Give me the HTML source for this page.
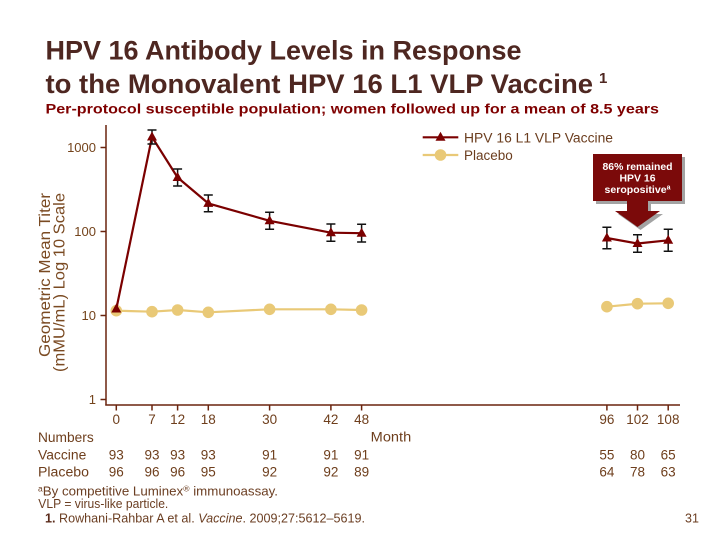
<!DOCTYPE html>
<html>
<head>
<meta charset="utf-8">
<style>
html,body{margin:0;padding:0;background:#fff;}
svg{display:block;}
text{font-family:"Liberation Sans", sans-serif;}
</style>
</head>
<body>
<svg width="714" height="535" viewBox="0 0 714 535" xmlns="http://www.w3.org/2000/svg">
<rect width="714" height="535" fill="#fff"/>

<!-- Title -->
<text x="45.5" y="59.5" font-size="27" font-weight="bold" fill="#4e2721" textLength="476" lengthAdjust="spacingAndGlyphs">HPV 16 Antibody Levels in Response</text>
<text x="45.5" y="93" font-size="27" font-weight="bold" fill="#4e2721" textLength="547.5" lengthAdjust="spacingAndGlyphs">to the Monovalent HPV 16 L1 VLP Vaccine</text>
<text x="599" y="83" font-size="15" font-weight="bold" fill="#4e2721">1</text>
<text x="45.5" y="113.5" font-size="13.5" font-weight="bold" fill="#7f0000" textLength="613.5" lengthAdjust="spacingAndGlyphs">Per-protocol susceptible population; women followed up for a mean of 8.5 years</text>

<!-- Y axis title -->
<text transform="translate(50,357) rotate(-90)" font-size="16" fill="#7a4a22" textLength="164" lengthAdjust="spacingAndGlyphs">Geometric Mean Titer</text>
<text transform="translate(64.5,372) rotate(-90)" font-size="16" fill="#7a4a22" textLength="179" lengthAdjust="spacingAndGlyphs">(mMU/mL)  Log 10 Scale</text>

<!-- Axes -->
<g stroke="#6a240e" stroke-width="1.5" fill="none">
  <line x1="106" y1="125" x2="106" y2="405.5"/>
  <line x1="105.3" y1="405" x2="680" y2="405"/>
  <line x1="100.5" y1="147.5" x2="106" y2="147.5"/>
  <line x1="100.5" y1="231.5" x2="106" y2="231.5"/>
  <line x1="100.5" y1="315.5" x2="106" y2="315.5"/>
  <line x1="100.5" y1="399.5" x2="106" y2="399.5"/>
  <line x1="116.3" y1="405" x2="116.3" y2="410.5"/>
  <line x1="152" y1="405" x2="152" y2="410.5"/>
  <line x1="177.6" y1="405" x2="177.6" y2="410.5"/>
  <line x1="208.3" y1="405" x2="208.3" y2="410.5"/>
  <line x1="269.6" y1="405" x2="269.6" y2="410.5"/>
  <line x1="330.9" y1="405" x2="330.9" y2="410.5"/>
  <line x1="361.6" y1="405" x2="361.6" y2="410.5"/>
  <line x1="606.9" y1="405" x2="606.9" y2="410.5"/>
  <line x1="637.5" y1="405" x2="637.5" y2="410.5"/>
  <line x1="668.2" y1="405" x2="668.2" y2="410.5"/>
</g>

<!-- Y tick labels -->
<g font-size="13" fill="#74441c" text-anchor="end">
  <text x="96" y="152">1000</text>
  <text x="96" y="236">100</text>
  <text x="96" y="320">10</text>
  <text x="96" y="404">1</text>
</g>

<!-- X tick labels -->
<g font-size="13.5" fill="#6e3e1c" text-anchor="middle">
  <text x="116.3" y="424">0</text>
  <text x="152" y="424">7</text>
  <text x="177.6" y="424">12</text>
  <text x="208.3" y="424">18</text>
  <text x="269.6" y="424">30</text>
  <text x="330.9" y="424">42</text>
  <text x="361.6" y="424">48</text>
  <text x="606.9" y="424">96</text>
  <text x="637.5" y="424">102</text>
  <text x="668.2" y="424">108</text>
</g>

<!-- Placebo series -->
<g stroke="#e9c977" stroke-width="2.2" fill="none">
  <polyline points="116.3,310.7 152,311.7 177.6,310 208.3,312.3 269.6,309.3 330.9,309.3 361.6,310"/>
  <polyline points="606.9,306.7 637.5,303.7 668.2,303.3"/>
</g>
<g fill="#e9c977">
  <circle cx="116.3" cy="310.7" r="5.8"/>
  <circle cx="152" cy="311.7" r="5.8"/>
  <circle cx="177.6" cy="310" r="5.8"/>
  <circle cx="208.3" cy="312.3" r="5.8"/>
  <circle cx="269.6" cy="309.3" r="5.8"/>
  <circle cx="330.9" cy="309.3" r="5.8"/>
  <circle cx="361.6" cy="310" r="5.8"/>
  <circle cx="606.9" cy="306.7" r="5.8"/>
  <circle cx="637.5" cy="303.7" r="5.8"/>
  <circle cx="668.2" cy="303.3" r="5.8"/>
</g>

<!-- Vaccine series -->
<g stroke="#7b0000" stroke-width="2.2" fill="none" stroke-linejoin="round">
  <polyline points="116.3,309 152,137 177.6,177.5 208.3,203.4 269.6,220.8 330.9,232.7 361.6,233.2"/>
  <polyline points="606.9,238 637.5,243.5 668.2,240.3"/>
</g>
<g stroke="#111" stroke-width="1.5" fill="none">
  <path d="M152,130V144M147.5,130H156.5M147.5,144H156.5"/>
  <path d="M177.6,169V186M173.1,169H182.1M173.1,186H182.1"/>
  <path d="M208.3,195V211.7M203.8,195H212.8M203.8,211.7H212.8"/>
  <path d="M269.6,212.3V229.3M265.1,212.3H274.1M265.1,229.3H274.1"/>
  <path d="M330.9,224V241.3M326.4,224H335.4M326.4,241.3H335.4"/>
  <path d="M361.6,224.3V242M357.1,224.3H366.1M357.1,242H366.1"/>
  <path d="M606.9,227.3V248.7M602.4,227.3H611.4M602.4,248.7H611.4"/>
  <path d="M637.5,234.7V252.3M633,234.7H642M633,252.3H642"/>
  <path d="M668.2,229.3V251.3M663.7,229.3H672.7M663.7,251.3H672.7"/>
</g>
<g fill="#7b0000">
  <polygon points="116.3,303.5 121.3,312.5 111.3,312.5"/>
  <polygon points="152,131.5 157,140.5 147,140.5"/>
  <polygon points="177.6,172 182.6,181 172.6,181"/>
  <polygon points="208.3,197.9 213.3,206.9 203.3,206.9"/>
  <polygon points="269.6,215.3 274.6,224.3 264.6,224.3"/>
  <polygon points="330.9,227.2 335.9,236.2 325.9,236.2"/>
  <polygon points="361.6,227.7 366.6,236.7 356.6,236.7"/>
  <polygon points="606.9,232.5 611.9,241.5 601.9,241.5"/>
  <polygon points="637.5,238 642.5,247 632.5,247"/>
  <polygon points="668.2,234.8 673.2,243.8 663.2,243.8"/>
</g>

<!-- Legend -->
<line x1="422.7" y1="137.3" x2="458.3" y2="137.3" stroke="#7b0000" stroke-width="2.2"/>
<polygon points="440.5,131.8 445.5,140.8 435.5,140.8" fill="#7b0000"/>
<text x="464" y="142.5" font-size="13.5" fill="#6b3d1e" textLength="149" lengthAdjust="spacingAndGlyphs">HPV 16 L1 VLP Vaccine</text>
<line x1="422.7" y1="155" x2="458.3" y2="155" stroke="#e9c977" stroke-width="2.2"/>
<circle cx="440.5" cy="155" r="5.8" fill="#e9c977"/>
<text x="464" y="160.2" font-size="13.5" fill="#6b3d1e">Placebo</text>

<!-- Callout -->
<polygon points="596,157 685,157 685,204 651,204 651,214 663,214 640.5,230 618,214 630,214 630,204 596,204" fill="#a3a3a3"/>
<polygon points="593,154 682,154 682,201 648,201 648,211 660,211 637.5,227 615,211 627,211 627,201 593,201" fill="#7b0a0a"/>
<g font-size="10.5" font-weight="bold" fill="#fff" text-anchor="middle">
  <text x="637.5" y="170" textLength="70" lengthAdjust="spacingAndGlyphs">86% remained</text>
  <text x="637.5" y="181.5" textLength="36" lengthAdjust="spacingAndGlyphs">HPV 16</text>
  <text x="637.5" y="193" textLength="66" lengthAdjust="spacingAndGlyphs">seropositive<tspan font-size="7" dy="-3.5">a</tspan></text>
</g>

<!-- Numbers table -->
<g font-size="13.5" fill="#6e3e1c">
  <text x="38" y="442" textLength="55.7" lengthAdjust="spacingAndGlyphs">Numbers</text>
  <text x="370.7" y="441.7" textLength="40.5" lengthAdjust="spacingAndGlyphs">Month</text>
  <text x="38" y="459.5" textLength="48.3" lengthAdjust="spacingAndGlyphs">Vaccine</text>
  <text x="38" y="476.7" textLength="51" lengthAdjust="spacingAndGlyphs">Placebo</text>
</g>
<g font-size="13.5" fill="#6e3e1c" text-anchor="middle">
  <text x="116.3" y="459.5">93</text>
  <text x="152" y="459.5">93</text>
  <text x="177.6" y="459.5">93</text>
  <text x="208.3" y="459.5">93</text>
  <text x="269.6" y="459.5">91</text>
  <text x="330.9" y="459.5">91</text>
  <text x="361.6" y="459.5">91</text>
  <text x="606.9" y="459.5">55</text>
  <text x="637.5" y="459.5">80</text>
  <text x="668.2" y="459.5">65</text>
  <text x="116.3" y="476.7">96</text>
  <text x="152" y="476.7">96</text>
  <text x="177.6" y="476.7">96</text>
  <text x="208.3" y="476.7">95</text>
  <text x="269.6" y="476.7">92</text>
  <text x="330.9" y="476.7">92</text>
  <text x="361.6" y="476.7">89</text>
  <text x="606.9" y="476.7">64</text>
  <text x="637.5" y="476.7">78</text>
  <text x="668.2" y="476.7">63</text>
</g>

<!-- Footnotes -->
<g font-size="12.5" fill="#6b3e22">
  <text x="38" y="495.5" textLength="240" lengthAdjust="spacingAndGlyphs"><tspan font-size="8" dy="-4">a</tspan><tspan dy="4">By competitive Luminex</tspan><tspan font-size="8" dy="-4">®</tspan><tspan dy="4"> immunoassay.</tspan></text>
  <text x="38.3" y="508" textLength="130" lengthAdjust="spacingAndGlyphs">VLP = virus-like particle.</text>
  <text x="45" y="522.3" textLength="320" lengthAdjust="spacingAndGlyphs"><tspan font-weight="bold" fill="#5a2a1a">1.</tspan> Rowhani-Rahbar A et al. <tspan font-style="italic">Vaccine</tspan>. 2009;27:5612–5619.</text>
  <text x="685" y="522.3">31</text>
</g>
</svg>
</body>
</html>
